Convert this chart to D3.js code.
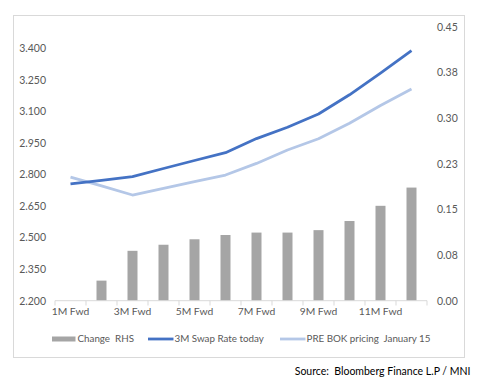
<!DOCTYPE html>
<html><head><meta charset="utf-8">
<script src="https://cdn.jsdelivr.net/npm/d3@7/dist/d3.min.js"></script>
<style>body{margin:0;background:#fff;}svg{display:block;font-family:Lato,"Open Sans",sans-serif;}</style>
</head><body><div id="chart"></div>
<script>
const categories = ["1M Fwd","2M Fwd","3M Fwd","4M Fwd","5M Fwd","6M Fwd","7M Fwd","8M Fwd","9M Fwd","10M Fwd","11M Fwd","12M Fwd"];
const changeRHS = [0.000,0.033,0.082,0.092,0.101,0.108,0.112,0.112,0.116,0.131,0.156,0.186];
const swapToday = [2.755,2.772,2.789,2.828,2.866,2.903,2.970,3.024,3.087,3.178,3.281,3.388];
const preBOK = [2.787,2.745,2.702,2.734,2.766,2.797,2.852,2.916,2.969,3.043,3.127,3.205];
const leftTicks = [2.2,2.35,2.5,2.65,2.8,2.95,3.1,3.25,3.4];
const rightTicks = [0,0.075,0.15,0.225,0.3,0.375,0.45];
const rightTickLabels = ["0.00","0.08","0.15","0.23","0.30","0.38","0.45"];
const seriesNames = ["Change  RHS","3M Swap Rate today","PRE BOK pricing  January 15"];

const W=501,H=390;
const svg=d3.select("#chart").append("svg").attr("width",W).attr("height",H);
svg.append("rect").attr("x",13.5).attr("y",15.5).attr("width",451).attr("height",342)
  .attr("fill","#fff").attr("stroke","#D9D9D9");

const x=d3.scaleBand().domain(categories).range([55,427]);
const yL=d3.scaleLinear().domain([2.2,3.5]).range([300.7,27]);
const yR=d3.scaleLinear().domain([0,0.45]).range([300.7,27]);
const textCol="#595959";

// bars
const bw=10;
svg.append("g").selectAll("rect").data(categories).join("rect")
  .attr("x",d=>x(d)+x.bandwidth()/2-bw/2).attr("width",bw)
  .attr("y",(d,i)=>yR(changeRHS[i])).attr("height",(d,i)=>yR(0)-yR(changeRHS[i]))
  .attr("fill","#A5A5A5");

// x axis line + boundary ticks
const ax=svg.append("g");
ax.append("line").attr("x1",x.range()[0]).attr("x2",x.range()[1]).attr("y1",300.7).attr("y2",300.7)
  .attr("stroke","#D9D9D9").attr("stroke-width",1);
const bounds=categories.map(c=>x(c)).concat([x.range()[1]]);
ax.selectAll("line.t").data(bounds).join("line").attr("class","t")
  .attr("x1",d=>d).attr("x2",d=>d).attr("y1",300.7).attr("y2",305.5)
  .attr("stroke","#D9D9D9");
const xa=svg.append("g").attr("transform","translate(0,303)")
  .call(d3.axisBottom(x).tickSize(0).tickFormat((d,i)=>i%2===0?d:""));
xa.select(".domain").remove();
xa.selectAll("text").attr("fill",textCol).attr("font-size",10.3).attr("font-family","Lato").attr("dy","0.9em");

// left axis
const la=svg.append("g").attr("transform","translate(46,0)")
  .call(d3.axisLeft(yL).tickValues(leftTicks).tickSize(0).tickPadding(0).tickFormat(d3.format(".3f")));
la.select(".domain").remove();
la.selectAll("text").attr("fill",textCol).attr("font-size",10.5).attr("font-family","Lato");

// right axis
const ra=svg.append("g").attr("transform","translate(437,0)")
  .call(d3.axisRight(yR).tickValues(rightTicks).tickSize(0).tickPadding(0).tickFormat((d,i)=>rightTickLabels[i]));
ra.select(".domain").remove();
ra.selectAll("text").attr("fill",textCol).attr("font-size",10.5).attr("font-family","Lato");

// lines
const lineGen=d3.line().x((d,i)=>x(categories[i])+x.bandwidth()/2).y(d=>yL(d));
svg.append("path").datum(preBOK).attr("d",lineGen).attr("fill","none")
  .attr("stroke","#B4C7E7").attr("stroke-width",2.8).attr("stroke-linejoin","round");
svg.append("path").datum(swapToday).attr("d",lineGen).attr("fill","none")
  .attr("stroke","#4472C4").attr("stroke-width",2.8).attr("stroke-linejoin","round");

// legend
const lg=svg.append("g").attr("font-size",9.8).attr("font-family","Lato").attr("fill",textCol);
const ly=339;
lg.append("rect").attr("x",52).attr("y",ly-2.5).attr("width",23.5).attr("height",5).attr("fill","#A5A5A5");
lg.append("text").attr("x",77.5).attr("y",ly).attr("dy","0.35em").text(seriesNames[0]).style("white-space","pre");
lg.append("line").attr("x1",148).attr("x2",173.5).attr("y1",ly).attr("y2",ly).attr("stroke","#4472C4").attr("stroke-width",2.8);
lg.append("text").attr("x",174.5).attr("y",ly).attr("dy","0.35em").text(seriesNames[1]);
lg.append("line").attr("x1",280).attr("x2",305.5).attr("y1",ly).attr("y2",ly).attr("stroke","#B4C7E7").attr("stroke-width",2.8);
lg.append("text").attr("x",306.5).attr("y",ly).attr("dy","0.35em").text(seriesNames[2]).style("white-space","pre");

// source
svg.append("text").attr("x",470.5).attr("y",371).attr("dy","0.35em").attr("text-anchor","end")
  .attr("font-size",10.5).attr("font-family","Lato").attr("fill","#000")
  .style("white-space","pre").text("Source:  Bloomberg Finance L.P / MNI");
</script></body></html>
